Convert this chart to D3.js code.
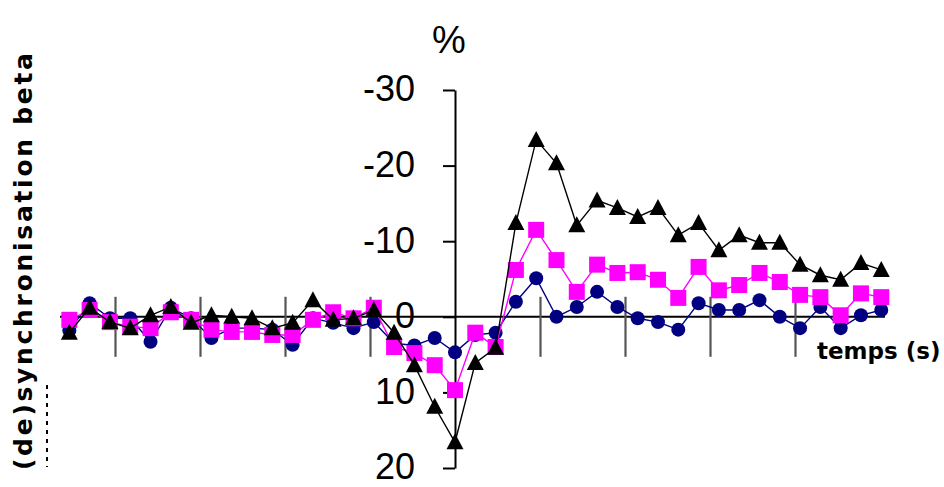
<!DOCTYPE html>
<html><head><meta charset="utf-8">
<script src="https://cdn.jsdelivr.net/npm/d3@7"></script>
<style>body{margin:0;background:#fff}svg{display:block}</style>
</head><body>
<svg id="c" width="944" height="487"></svg>
<script>
// (de)synchronisation beta, % (negative = desynchronisation, drawn upward)
const seriesBlack = [2.1,-1.2,0.7,1.5,-0.2,-1.3,0.8,-0.2,0.0,0.2,1.5,0.8,-2.2,0.4,0.2,-0.9,2.1,6.4,11.9,16.6,6.1,4.1,-12.4,-23.4,-20.3,-12.1,-15.4,-14.4,-13.2,-14.4,-10.8,-12.4,-8.8,-10.8,-9.8,-9.8,-6.9,-5.5,-4.9,-7.1,-6.2];
const seriesPink  = [0.4,-0.9,0.7,1.3,1.5,-0.6,0.4,1.7,2.0,2.0,2.4,2.4,0.4,-0.6,0.2,-1.2,4.0,4.8,6.4,9.7,2.1,4.0,-6.2,-11.5,-7.5,-3.3,-6.9,-5.8,-5.9,-4.9,-2.5,-6.6,-3.5,-4.2,-5.8,-4.6,-2.9,-2.6,-0.2,-3.1,-2.6];
const seriesBlue  = [1.8,-1.8,0.2,0.2,3.3,-1.2,0.2,2.8,1.5,1.5,1.7,3.7,0.2,0.8,1.5,0.7,3.5,3.8,2.8,4.7,2.4,2.1,-2.0,-5.1,0.0,-1.3,-3.3,-1.3,0.2,0.7,1.7,-1.8,-0.9,-0.9,-2.2,0.0,1.5,-1.3,1.5,-0.2,-0.9];
const yTicks = [-30,-20,-10,0,10,20];
const yTickLabels = ["-30","-20","-10","0","10","20"];
const xTicks = [-4,-3,-2,-1,1,2,3,4];          // seconds
const sampleStep = 0.2388;                        // seconds between samples
const onsetIndex = 19;                            // sample at t = 0
const times = d3.range(seriesBlack.length).map(i => (i - onsetIndex) * sampleStep);

const svg = d3.select("#c");
const x = d3.scaleLinear().domain([-5, 5]).range([30, 880]);
const y = d3.scaleLinear().domain([-30, 20]).range([90, 468]);

// x axis line + crossing tick marks
svg.append("line").attr("x1", 60).attr("x2", 885).attr("y1", y(0)).attr("y2", y(0))
  .attr("stroke", "#000").attr("stroke-width", 2);
const gx = svg.append("g").attr("transform", `translate(0,${y(0)})`)
  .call(d3.axisBottom(x).tickValues(xTicks).tickSize(40).tickFormat(""));
gx.select(".domain").remove();
gx.selectAll(".tick line").attr("y1", -20).attr("stroke", "#555").attr("stroke-width", 2.2);

// y axis
const gy = svg.append("g").attr("transform", `translate(${x(0)},0)`)
  .call(d3.axisLeft(y).tickValues(yTicks).tickSize(12).tickSizeOuter(0).tickPadding(28)
    .tickFormat((d, i) => yTickLabels[i]));
gy.select(".domain").attr("stroke-width", 2);
gy.selectAll(".tick line").attr("stroke-width", 2);
gy.selectAll(".tick text").attr("font-family", "Liberation Sans, Arial, sans-serif")
  .attr("font-size", 36).attr("fill", "#000").attr("dy", "0.3em");

const line = d3.line().x((d, i) => x(times[i])).y(d => y(d));

function drawSeries(vals, color, shape) {
  svg.append("path").datum(vals).attr("d", line).attr("fill", "none")
    .attr("stroke", color).attr("stroke-width", 1.4);
  const g = svg.append("g").attr("fill", color);
  const pts = vals.map((v, i) => [x(times[i]), y(v)]);
  if (shape === "tri") {
    g.selectAll("path").data(pts).join("path")
      .attr("d", d => `M${d[0]},${d[1]-9}L${d[0]+8.5},${d[1]+7}L${d[0]-8.5},${d[1]+7}Z`);
  } else if (shape === "sq") {
    g.selectAll("rect").data(pts).join("rect")
      .attr("x", d => d[0]-8).attr("y", d => d[1]-8).attr("width", 16).attr("height", 16);
  } else {
    g.selectAll("circle").data(pts).join("circle")
      .attr("cx", d => d[0]).attr("cy", d => d[1]).attr("r", 7);
  }
}
drawSeries(seriesBlue, "#000080", "circle");
drawSeries(seriesPink, "#ff00ff", "sq");
drawSeries(seriesBlack, "#000000", "tri");

// labels
svg.append("text").attr("x", 449).attr("y", 53).attr("text-anchor", "middle")
  .attr("font-family", "Liberation Sans, Arial, sans-serif").attr("font-size", 38).text("%");
svg.append("text").attr("x", 817).attr("y", 359)
  .attr("font-family", "DejaVu Sans, sans-serif").attr("font-weight", "bold").attr("font-size", 23)
  .text("temps (s)");
svg.append("text").attr("transform", "translate(32,470) rotate(-90)")
  .attr("font-family", "DejaVu Sans, sans-serif").attr("font-weight", "bold").attr("font-size", 25)
  .attr("textLength", 417).attr("lengthAdjust", "spacing")
  .text("(de)synchronisation beta");
svg.append("line").attr("x1", 47).attr("x2", 47).attr("y1", 385).attr("y2", 467)
  .attr("stroke", "#000").attr("stroke-width", 2).attr("stroke-dasharray", "4,5");
</script>
</body></html>
